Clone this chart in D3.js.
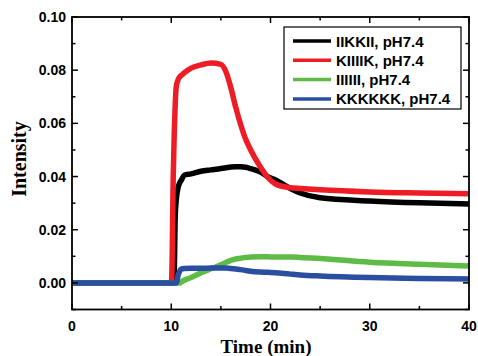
<!DOCTYPE html>
<html>
<head>
<meta charset="utf-8">
<script src="https://cdn.jsdelivr.net/npm/d3@7"></script>
<style>
  body { margin: 0; background: #fff; }
  .tick-label { font-family: "Liberation Sans", Arial, sans-serif; font-weight: bold; font-size: 14px; }
  .axis-title { font-family: "Liberation Serif", "Times New Roman", serif; font-weight: bold; }
  .legend-text { font-family: "Liberation Sans", Arial, sans-serif; font-weight: bold; font-size: 15px; }
</style>
</head>
<body>
<div id="chart"></div>
<script>
// time points (min)
const time = [0, 5, 10, 10.05, 10.2, 10.3, 10.4, 10.5, 10.7, 10.9, 11, 11.3, 12, 13, 14, 15, 15.5, 16, 16.5, 17, 17.5, 18, 19, 19.7, 20.5, 22, 23, 25, 30, 35, 40];

// intensity for each peptide
const iikkii = [0, 0, 0, 0, 0, 0.004, 0.025, 0.031, 0.036, 0.038, 0.0385, 0.0405, 0.041, 0.042, 0.0425, 0.043, 0.0433, 0.0436, 0.0437, 0.0437, 0.0435, 0.043, 0.0417, 0.04, 0.0387, 0.0355, 0.0338, 0.032, 0.0308, 0.0301, 0.0297];
const kiiiik = [0, 0, 0, 0.002, 0.04, 0.056, 0.067, 0.0737, 0.0765, 0.0777, 0.078, 0.079, 0.0808, 0.082, 0.0827, 0.0822, 0.0795, 0.0735, 0.066, 0.0595, 0.054, 0.05, 0.0435, 0.0398, 0.0372, 0.0358, 0.0355, 0.035, 0.0342, 0.0338, 0.0335];
const iiiiii = [0, 0, 0, 0, 0, 0, 0, 0, 0, 0, 0.0003, 0.001, 0.002, 0.0038, 0.0053, 0.0068, 0.0077, 0.0085, 0.009, 0.0093, 0.0096, 0.0097, 0.0098, 0.0098, 0.0097, 0.0097, 0.0096, 0.0092, 0.0078, 0.007, 0.0064];
const kkkkkk = [0, 0, 0, 0, 0, 0, 0, 0, 0.003, 0.0048, 0.0052, 0.0054, 0.0055, 0.0055, 0.0056, 0.0056, 0.0056, 0.0054, 0.0052, 0.005, 0.0047, 0.0044, 0.0041, 0.004, 0.0038, 0.0033, 0.003, 0.0026, 0.002, 0.0017, 0.0015];

const seriesNames = ["IIKKII, pH7.4", "KIIIIK, pH7.4", "IIIIII, pH7.4", "KKKKKK, pH7.4"];
const seriesValues = [iikkii, kiiiik, iiiiii, kkkkkk];
const colors = ["#000000", "#ee1c25", "#5dbb46", "#2a4ea0"];

const xTicks = [0, 10, 20, 30, 40];
const yTicks = [0.00, 0.02, 0.04, 0.06, 0.08, 0.10];

const width = 478, height = 356;
const margin = { top: 17, right: 9, bottom: 46.5, left: 72 };
const w = width - margin.left - margin.right;
const h = height - margin.top - margin.bottom;

const svg = d3.select("#chart").append("svg").attr("width", width).attr("height", height);
const g = svg.append("g").attr("transform", "translate(" + margin.left + "," + margin.top + ")");

const x = d3.scaleLinear().domain([0, 40]).range([0, w]);
const y = d3.scaleLinear().domain([-0.01, 0.10]).range([h, 0]);

// lines
const line = d3.line()
  .curve(d3.curveMonotoneX)
  .x(function(d) { return x(d[0]); })
  .y(function(d) { return y(d[1]); });

seriesValues.forEach(function(vals, i) {
  const pts = time.map(function(t, j) { return [t, vals[j]]; });
  g.append("path").datum(pts)
    .attr("fill", "none")
    .attr("stroke", colors[i])
    .attr("stroke-width", 5.5)
    .attr("stroke-linejoin", "round")
    .attr("d", line);
});

// frame + inward ticks on all four sides
const minorX = d3.range(0, 40.01, 5);
const minorY = d3.range(-0.01, 0.1001, 0.01);
const isMajor = function(v, arr) { return arr.some(function(a) { return Math.abs(a - v) < 1e-6; }); };

const axisG = g.append("g").attr("stroke", "#000").attr("stroke-width", 1.5);
minorX.forEach(function(v) {
  const len = isMajor(v, xTicks) ? 6 : 3.5;
  axisG.append("line").attr("x1", x(v)).attr("x2", x(v)).attr("y1", h).attr("y2", h - len);
  axisG.append("line").attr("x1", x(v)).attr("x2", x(v)).attr("y1", 0).attr("y2", len);
});
minorY.forEach(function(v) {
  const len = isMajor(v, yTicks) ? 6 : 3.5;
  axisG.append("line").attr("x1", 0).attr("x2", len).attr("y1", y(v)).attr("y2", y(v));
  axisG.append("line").attr("x1", w).attr("x2", w - len).attr("y1", y(v)).attr("y2", y(v));
});
g.append("rect").attr("x", 0).attr("y", 0).attr("width", w).attr("height", h)
  .attr("fill", "none").attr("stroke", "#000").attr("stroke-width", 1.8);

// tick labels
g.selectAll(".xl").data(xTicks).enter().append("text")
  .attr("class", "tick-label")
  .attr("x", function(d) { return x(d); })
  .attr("y", h + 21)
  .attr("text-anchor", "middle")
  .text(function(d) { return d; });

g.selectAll(".yl").data(yTicks).enter().append("text")
  .attr("class", "tick-label")
  .attr("x", -6)
  .attr("y", function(d) { return y(d) + 5; })
  .attr("text-anchor", "end")
  .text(function(d) { return d.toFixed(2); });

// axis titles
svg.append("text").attr("class", "axis-title")
  .attr("x", 266).attr("y", 353)
  .attr("text-anchor", "middle").attr("font-size", 19)
  .text("Time (min)");

svg.append("text").attr("class", "axis-title")
  .attr("transform", "translate(26,159) rotate(-90)")
  .attr("text-anchor", "middle").attr("font-size", 20)
  .text("Intensity");

// legend
const lg = svg.append("g").attr("transform", "translate(284,27)");
lg.append("rect").attr("width", 177).attr("height", 82)
  .attr("fill", "#fff").attr("stroke", "#000").attr("stroke-width", 1.2);
seriesNames.forEach(function(name, i) {
  const ly = 14 + i * 19.3;
  lg.append("line").attr("x1", 9).attr("x2", 47).attr("y1", ly).attr("y2", ly)
    .attr("stroke", colors[i]).attr("stroke-width", 3.5);
  lg.append("text").attr("class", "legend-text")
    .attr("x", 52).attr("y", ly + 5.5)
    .text(name);
});
</script>
</body>
</html>
